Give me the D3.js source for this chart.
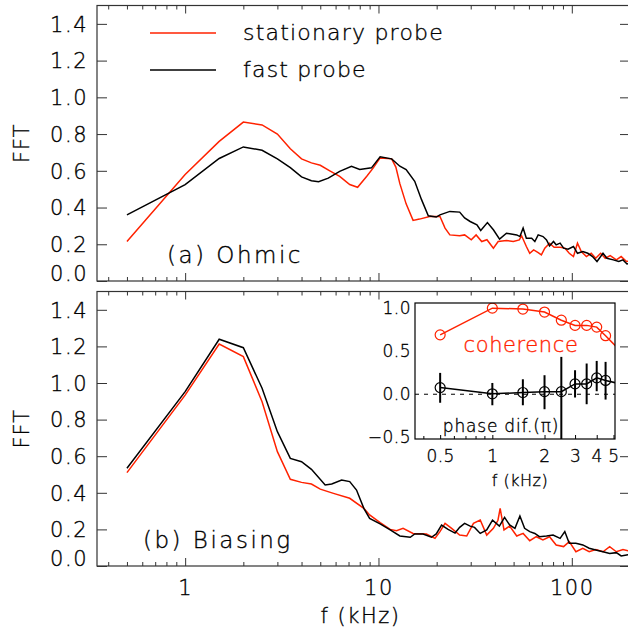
<!DOCTYPE html>
<html>
<head>
<meta charset="utf-8">
<script src="https://cdn.jsdelivr.net/npm/d3@7"></script>
<style>
  body { margin: 0; background: #fff; }
  svg text { font-family: "DejaVu Sans", sans-serif; font-weight: 200; fill: #000; stroke: #000; stroke-width: 0.35px; }
</style>
</head>
<body>
<div id="chart"></div>
<script>
// ---- data ----
// (a) Ohmic
const ohmicStatF = [0.5,1,1.5,2,2.5,3,3.5,4,4.5,5,5.6,6.3,7.1,7.8,8.7,9.4,10.2,11.7,12.3,12.9,13.9,15.1,16.3,18.4,20.8,22.1,23.4,26.3,27.9,30.2,32,34.2,36.4,39.3,41.6,45.9,49.8,53.5,55,58.2,60.6,63.5,67,69.6,72.5,76.7,81,87,92,97,102,107,112,119,126,133,141,149,158,170,180,192,200];
const ohmicStatV = [0.215,0.58,0.76,0.865,0.85,0.80,0.72,0.665,0.643,0.63,0.60,0.57,0.525,0.51,0.57,0.616,0.67,0.665,0.62,0.53,0.42,0.33,0.337,0.351,0.351,0.288,0.251,0.246,0.251,0.224,0.251,0.215,0.225,0.179,0.215,0.22,0.215,0.224,0.246,0.188,0.151,0.169,0.155,0.142,0.179,0.206,0.184,0.184,0.179,0.151,0.133,0.206,0.16,0.133,0.151,0.124,0.151,0.124,0.138,0.115,0.133,0.106,0.11];
const ohmicFastF = [0.5,1,1.5,2,2.5,3,3.5,4,4.5,4.9,5.5,6.3,7.25,8,9.2,10.2,11.7,12.9,13.9,15.4,16.7,18.1,19.9,20.8,23.4,26.3,27.9,29.8,32.3,33.8,36.6,39.3,42.3,45.9,47.7,51.9,53.9,56,58.2,62,64.4,67,71,74,76.7,80.4,83,87,90.7,95.6,102,107,114,121,128,135,145,152,164,175,184,193,200];
const ohmicFastV = [0.36,0.525,0.667,0.73,0.712,0.665,0.617,0.567,0.546,0.54,0.56,0.597,0.625,0.607,0.616,0.676,0.665,0.625,0.607,0.543,0.443,0.355,0.348,0.36,0.379,0.375,0.343,0.324,0.306,0.275,0.318,0.279,0.228,0.26,0.257,0.251,0.242,0.288,0.233,0.233,0.215,0.251,0.242,0.224,0.191,0.215,0.197,0.206,0.179,0.173,0.188,0.151,0.16,0.151,0.133,0.106,0.151,0.124,0.115,0.106,0.115,0.093,0.095];

// (b) Biasing
const biasStatF = [0.5,1,1.5,2,2.5,3,3.5,4,4.5,5,5.85,7.1,8.4,9,10.2,11.5,12.4,13.4,15.1,17.7,19.6,20.8,22.1,23.9,26.3,28.6,31,33.6,36.3,39.3,41.5,42.6,44.6,47.7,51.9,56,60.6,65.5,70.9,76.7,83,90.7,97,105,114,123,133,145,157,170,184,200];
const biasStatV = [0.51,0.934,1.213,1.144,0.898,0.625,0.474,0.457,0.448,0.42,0.397,0.37,0.315,0.279,0.237,0.2,0.193,0.206,0.178,0.175,0.151,0.188,0.233,0.206,0.169,0.164,0.233,0.251,0.169,0.206,0.25,0.315,0.197,0.218,0.164,0.178,0.138,0.16,0.142,0.16,0.115,0.106,0.133,0.078,0.097,0.078,0.09,0.078,0.106,0.078,0.09,0.08];
const biasFastF = [0.5,1,1.5,2,2.5,3,3.5,4,4.5,5.3,5.73,6.45,7.1,7.7,8.4,9,10.2,11.5,12.9,14.6,15.4,17,18.8,19.9,21.2,22.9,24.9,26.3,27.9,29.8,31.4,33.6,36.3,38.9,42.2,44.9,47.7,50.8,53.9,57,60.6,64.4,68,74,80,87,92,97,105,114,123,133,145,157,170,180,192,200];
const biasFastV = [0.534,0.953,1.239,1.193,0.971,0.734,0.588,0.57,0.528,0.443,0.448,0.47,0.461,0.415,0.315,0.26,0.23,0.197,0.164,0.157,0.175,0.175,0.157,0.175,0.224,0.2,0.18,0.211,0.233,0.218,0.211,0.178,0.197,0.251,0.218,0.266,0.224,0.206,0.273,0.206,0.188,0.178,0.16,0.164,0.169,0.151,0.188,0.124,0.124,0.115,0.097,0.087,0.078,0.069,0.073,0.055,0.06,0.062];

// inset: coherence and phase difference
const insetF = [0.5,1,1.5,2,2.5,3,3.5,4,4.5,5.5];
const coherence = [0.69,1.0,0.99,0.955,0.86,0.80,0.80,0.78,0.68,0.50];
const phaseDif = [0.077,0.005,0.02,0.03,0.03,0.12,0.12,0.19,0.16,0.12];
const phaseHi = [0.248,0.131,0.174,0.221,0.434,0.279,0.357,0.387,0.376];
const phaseLo = [-0.099,-0.128,-0.128,-0.174,-0.6,-0.038,-0.116,0.035,-0.062];

// ticks
const yTicks = [0,0.2,0.4,0.6,0.8,1.0,1.2,1.4];
const xMajor = [1,10,100];
const xMinor = [0.4,0.5,0.6,0.7,0.8,0.9,2,3,4,5,6,7,8,9,20,30,40,50,60,70,80,90,200];
const inYTicks = [-0.5,0,0.5,1.0];
const inXLabels = [0.5,1,2,3,4,5];
const inXMinor = [0.4,0.6,0.7,0.8,0.9];

const RED = "#ff2200";
const width = 628, height = 643;

const svg = d3.select("#chart").append("svg")
    .attr("width", width).attr("height", height);

const x = d3.scaleLog().domain([0.35, 200]).range([97, 630]);

function drawPanel(id, yRange, stat, fast, label, withXLabels) {
  const y = d3.scaleLinear().domain([0, 1.5]).range(yRange);
  const top = yRange[1], bottom = yRange[0];
  const g = svg.append("g").attr("id", id);

  g.append("clipPath").attr("id", id + "clip")
    .append("rect").attr("x", 97).attr("y", top).attr("width", 533).attr("height", bottom - top);

  const line = d3.line().x(d => x(d[0])).y(d => y(d[1]));
  const curves = g.append("g").attr("clip-path", `url(#${id}clip)`);
  curves.append("path").datum(d3.zip(stat[0], stat[1]))
    .attr("d", line).attr("fill", "none").attr("stroke", RED).attr("stroke-width", 1.5);
  curves.append("path").datum(d3.zip(fast[0], fast[1]))
    .attr("d", line).attr("fill", "none").attr("stroke", "#000").attr("stroke-width", 1.5);

  // frame
  g.append("rect").attr("x", 97).attr("y", top).attr("width", 533).attr("height", bottom - top)
    .attr("fill", "none").attr("stroke", "#333").attr("stroke-width", 1.2);

  // x ticks, bottom and top, pointing inward
  const xb = g.append("g").attr("transform", `translate(0,${bottom})`)
    .call(d3.axisBottom(x).tickValues(xMajor).tickSizeInner(-8).tickSizeOuter(0)
      .tickPadding(14).tickFormat(withXLabels ? d3.format("d") : ""));
  g.append("g").attr("transform", `translate(0,${bottom})`)
    .call(d3.axisBottom(x).tickValues(xMinor).tickSizeInner(-4).tickSizeOuter(0).tickFormat(""));
  g.append("g").attr("transform", `translate(0,${top})`)
    .call(d3.axisTop(x).tickValues(xMajor).tickSizeInner(-8).tickSizeOuter(0).tickFormat(""));
  g.append("g").attr("transform", `translate(0,${top})`)
    .call(d3.axisTop(x).tickValues(xMinor).tickSizeInner(-4).tickSizeOuter(0).tickFormat(""));

  // y ticks, left and right
  const yl = g.append("g").attr("transform", "translate(97,0)")
    .call(d3.axisLeft(y).tickValues(yTicks).tickSizeInner(-10).tickSizeOuter(0)
      .tickPadding(9).tickFormat(d3.format(".1f")));
  g.append("g").attr("transform", "translate(630,0)")
    .call(d3.axisRight(y).tickValues(yTicks).tickSizeInner(-10).tickSizeOuter(0).tickFormat(""));

  g.selectAll(".domain").remove();
  g.selectAll(".tick line").attr("stroke", "#333");
  yl.selectAll("text").style("font-size", "21px").style("letter-spacing", "1.5px")
    .attr("dy", d => d === 0 ? "-0.02em" : "0.35em");
  xb.selectAll("text").style("font-size", "21px").style("letter-spacing", "1.5px");

  g.append("text").attr("x", label.x).attr("y", y(label.y))
    .style("font-size", "23px").style("letter-spacing", "2.5px").style("white-space", "pre")
    .text(label.text);

  g.append("text")
    .attr("transform", `translate(29,${(top + bottom) / 2}) rotate(-90)`)
    .attr("text-anchor", "middle")
    .style("font-size", "21px").style("letter-spacing", "1px")
    .text("FFT");
  return y;
}

drawPanel("pa", [281, 5.5], [ohmicStatF, ohmicStatV], [ohmicFastF, ohmicFastV],
  {x: 167, y: 0.1, text: "(a) Ohmic"}, false);
drawPanel("pb", [566, 291.5], [biasStatF, biasStatV], [biasFastF, biasFastV],
  {x: 143, y: 0.1, text: "(b) Biasing"}, true);

svg.append("text").attr("x", (97 + 630) / 2 - 3).attr("y", 623)
  .attr("text-anchor", "middle")
  .style("font-size", "21px").style("letter-spacing", "1.5px").style("white-space", "pre")
  .text("f (kHz)");

// legend
const legend = svg.append("g");
[["stationary probe", RED, 33], ["fast probe", "#000", 70]].forEach(([name, col, ly]) => {
  legend.append("line").attr("x1", 150).attr("x2", 216).attr("y1", ly).attr("y2", ly)
    .attr("stroke", col).attr("stroke-width", 1.5);
  legend.append("text").attr("x", 243).attr("y", ly + 7)
    .style("font-size", "22px").style("letter-spacing", "1.2px").style("white-space", "pre")
    .text(name);
});

// ---- inset ----
const xi = d3.scaleLog().domain([0.358, 5.1]).range([415, 615]);
const yi = d3.scaleLinear().domain([-0.52, 1.06]).range([439, 303]);
const inset = svg.append("g");

inset.append("rect").attr("x", 415).attr("y", 303).attr("width", 200).attr("height", 136)
  .attr("fill", "#fff");
inset.append("clipPath").attr("id", "insetclip")
  .append("rect").attr("x", 415).attr("y", 303).attr("width", 200).attr("height", 136);

const ic = inset.append("g").attr("clip-path", "url(#insetclip)");
ic.append("line").attr("x1", 415).attr("x2", 615).attr("y1", yi(0)).attr("y2", yi(0))
  .attr("stroke", "#000").attr("stroke-dasharray", "4,5").attr("stroke-width", 1);

const iline = d3.line().x(d => xi(d[0])).y(d => yi(d[1]));
ic.append("path").datum(d3.zip(insetF, coherence)).attr("d", iline)
  .attr("fill", "none").attr("stroke", RED).attr("stroke-width", 1.5);
ic.append("path").datum(d3.zip(insetF, phaseDif)).attr("d", iline)
  .attr("fill", "none").attr("stroke", "#000").attr("stroke-width", 1.5);

const marked = insetF.filter(f => f <= 5);
ic.selectAll(".err").data(marked).enter().append("line")
  .attr("x1", d => xi(d)).attr("x2", d => xi(d))
  .attr("y1", (d, i) => yi(phaseHi[i])).attr("y2", (d, i) => yi(phaseLo[i]))
  .attr("stroke", "#000").attr("stroke-width", 2);
ic.selectAll(".coh").data(marked).enter().append("circle")
  .attr("cx", d => xi(d)).attr("cy", (d, i) => yi(coherence[i])).attr("r", 5)
  .attr("fill", "none").attr("stroke", RED).attr("stroke-width", 1.2);
ic.selectAll(".ph").data(marked).enter().append("circle")
  .attr("cx", d => xi(d)).attr("cy", (d, i) => yi(phaseDif[i])).attr("r", 5)
  .attr("fill", "none").attr("stroke", "#000").attr("stroke-width", 1.2);

inset.append("rect").attr("x", 415).attr("y", 303).attr("width", 200).attr("height", 136)
  .attr("fill", "none").attr("stroke", "#000").attr("stroke-width", 1.2);

const ixa = inset.append("g").attr("transform", "translate(0,439)")
  .call(d3.axisBottom(xi).tickValues(inXLabels).tickSizeInner(-4).tickSizeOuter(0)
    .tickPadding(11).tickFormat(d => d === 0.5 ? "0.5" : d3.format("d")(d)));
inset.append("g").attr("transform", "translate(0,439)")
  .call(d3.axisBottom(xi).tickValues(inXMinor).tickSizeInner(-3).tickSizeOuter(0).tickFormat(""));
const iya = inset.append("g").attr("transform", "translate(415,0)")
  .call(d3.axisLeft(yi).tickValues(inYTicks).tickSizeInner(0).tickSizeOuter(0)
    .tickPadding(4).tickFormat(d => d < 0 ? "\u22120.5" : d3.format(".1f")(d)));
inset.selectAll(".domain").remove();
ixa.selectAll("text").style("font-size", "17px").style("letter-spacing", "0.5px");
iya.selectAll("text").style("font-size", "17px").style("letter-spacing", "0.5px");

inset.append("text").attr("x", 521).attr("y", 352).attr("text-anchor", "middle")
  .style("fill", RED).style("stroke", RED)
  .style("font-size", "21px").style("letter-spacing", "0.6px").text("coherence");
inset.append("text").attr("x", 501).attr("y", 432).attr("text-anchor", "middle")
  .style("font-size", "17px").style("letter-spacing", "0.8px").style("white-space", "pre")
  .text("phase dif.(\u03c0)");
inset.append("text").attr("x", 520).attr("y", 486).attr("text-anchor", "middle")
  .style("font-size", "16px").style("letter-spacing", "0.5px").style("white-space", "pre")
  .text("f (kHz)");
</script>
</body>
</html>
